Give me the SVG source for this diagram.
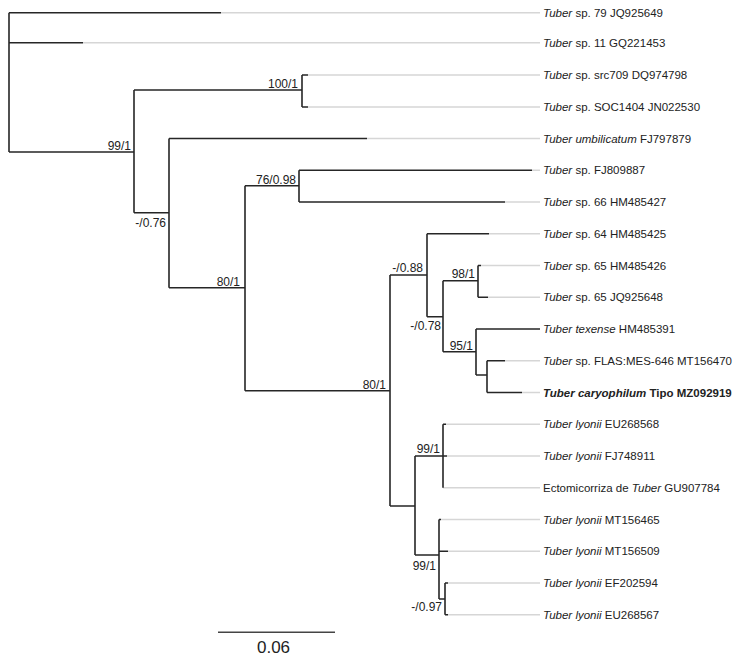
<svg xmlns="http://www.w3.org/2000/svg" width="737" height="657" viewBox="0 0 737 657">
<style>
.b{stroke:#262626;stroke-width:1.6;fill:none}
.g{stroke:#d6d6d6;stroke-width:1.5;fill:none}
.t{font-family:"Liberation Sans",Arial,sans-serif;font-size:11.5px;fill:#222}
.s{font-family:"Liberation Sans",Arial,sans-serif;font-size:12px;fill:#222;text-anchor:end}
.i{font-style:italic}
.bold{font-weight:bold}
</style>
<rect width="737" height="657" fill="#fff"/>
<g id="connectors">
<!-- gray extensions -->
<path class="g" d="M221 12.7H540M83 42.7H540M308 75H540M308 107H540M367 138.5H540M532 170.25H540M505 202H540M489 233.75H540M481 265.5H540M488 297.25H540M505 360.75H540M522 392.5H540M446 424.25H540M447 456H540M443 487.75H540M441 519.5H540M448 551.25H540M448 583H540M448 614.75H540"/>
<!-- black branches -->
<path class="b" d="M9 12.7V152M9 12.7H221M9 42.7H83M9 152H134"/>
<path class="b" d="M134 90V212.7M134 90H302M134 212.7H169"/>
<path class="b" d="M302 75V107M302 75H308M302 107H308"/>
<path class="b" d="M169 138.5V287.7M169 138.5H367M169 287.7H245"/>
<path class="b" d="M245 185.7V390.7M245 185.7H299M245 390.7H390"/>
<path class="b" d="M299 170.25V202M299 170.25H532M299 202H505"/>
<path class="b" d="M390 275V506M390 275H427M390 506H415"/>
<path class="b" d="M427 233.75V316.7M427 233.75H489M427 316.7H443"/>
<path class="b" d="M443 280.7V351.7M443 280.7H478M443 351.7H476"/>
<path class="b" d="M478 265.5V297.25M478 265.5H481M478 297.25H488"/>
<path class="b" d="M476 329V375M476 329H540M476 375H487"/>
<path class="b" d="M487 360.75V392.5M487 360.75H505M487 392.5H522"/>
<path class="b" d="M415 456V555M415 456H443M415 555H439"/>
<path class="b" d="M443 424.25V487.75M443 424.25H446M443 456H447"/>
<path class="b" d="M439 519.5V599M439 519.5H441M439 551.25H448M439 599H445"/>
<path class="b" d="M445 583V614.75M445 583H448M445 614.75H448"/>
</g>
<g id="supports">
<g id="n-99-1a"><text class="s" x="131" y="150">99/1</text></g>
<g id="n-100-1"><text class="s" x="298" y="87.5">100/1</text></g>
<g id="n-076"><text class="s" x="166" y="227">-/0.76</text></g>
<g id="n-80-1a"><text class="s" x="240" y="286">80/1</text></g>
<g id="n-76-098"><text class="s" x="296" y="183.5">76/0.98</text></g>
<g id="n-80-1b"><text class="s" x="386" y="388.5">80/1</text></g>
<g id="n-088"><text class="s" x="423" y="272">-/0.88</text></g>
<g id="n-98-1"><text class="s" x="475" y="277.5">98/1</text></g>
<g id="n-078"><text class="s" x="441" y="329.5">-/0.78</text></g>
<g id="n-95-1"><text class="s" x="473" y="349.5">95/1</text></g>
<g id="n-99-1b"><text class="s" x="440" y="452.5">99/1</text></g>
<g id="n-99-1c"><text class="s" x="436" y="569.5">99/1</text></g>
<g id="n-097"><text class="s" x="442" y="611">-/0.97</text></g>
</g>
<g id="tip0"><text class="t" x="543" y="16.7"><tspan class="i">Tuber</tspan> sp. 79 JQ925649</text></g>
<g id="tip1"><text class="t" x="543" y="46.7"><tspan class="i">Tuber</tspan> sp. 11 GQ221453</text></g>
<g id="tip2"><text class="t" x="543" y="79"><tspan class="i">Tuber</tspan> sp. src709 DQ974798</text></g>
<g id="tip3"><text class="t" x="543" y="111"><tspan class="i">Tuber</tspan> sp. SOC1404 JN022530</text></g>
<g id="tip4"><text class="t" x="543" y="142.5"><tspan class="i">Tuber umbilicatum</tspan> FJ797879</text></g>
<g id="tip5"><text class="t" x="543" y="174.25"><tspan class="i">Tuber</tspan> sp. FJ809887</text></g>
<g id="tip6"><text class="t" x="543" y="206"><tspan class="i">Tuber</tspan> sp. 66 HM485427</text></g>
<g id="tip7"><text class="t" x="543" y="237.75"><tspan class="i">Tuber</tspan> sp. 64 HM485425</text></g>
<g id="tip8"><text class="t" x="543" y="269.5"><tspan class="i">Tuber</tspan> sp. 65 HM485426</text></g>
<g id="tip9"><text class="t" x="543" y="301.25"><tspan class="i">Tuber</tspan> sp. 65 JQ925648</text></g>
<g id="tip10"><text class="t" x="543" y="333"><tspan class="i">Tuber texense</tspan> HM485391</text></g>
<g id="tip11"><text class="t" x="543" y="364.75"><tspan class="i">Tuber</tspan> sp. FLAS:MES-646 MT156470</text></g>
<g id="tip12"><text class="t bold" x="543" y="396.5"><tspan class="i">Tuber caryophilum</tspan> Tipo MZ092919</text></g>
<g id="tip13"><text class="t" x="543" y="428.25"><tspan class="i">Tuber lyonii</tspan> EU268568</text></g>
<g id="tip14"><text class="t" x="543" y="460"><tspan class="i">Tuber lyonii</tspan> FJ748911</text></g>
<g id="tip15"><text class="t" x="543" y="491.75">Ectomicorriza de <tspan class="i">Tuber</tspan> GU907784</text></g>
<g id="tip16"><text class="t" x="543" y="523.5"><tspan class="i">Tuber lyonii</tspan> MT156465</text></g>
<g id="tip17"><text class="t" x="543" y="555.25"><tspan class="i">Tuber lyonii</tspan> MT156509</text></g>
<g id="tip18"><text class="t" x="543" y="587"><tspan class="i">Tuber lyonii</tspan> EF202594</text></g>
<g id="tip19"><text class="t" x="543" y="618.75"><tspan class="i">Tuber lyonii</tspan> EU268567</text></g>
<g id="scale">
<path d="M218 632.3H335" stroke="#444" stroke-width="1.6"/>
<text x="273.5" y="653" font-family="Liberation Sans, Arial, sans-serif" font-size="17" fill="#222" text-anchor="middle">0.06</text>
</g>
</svg>
